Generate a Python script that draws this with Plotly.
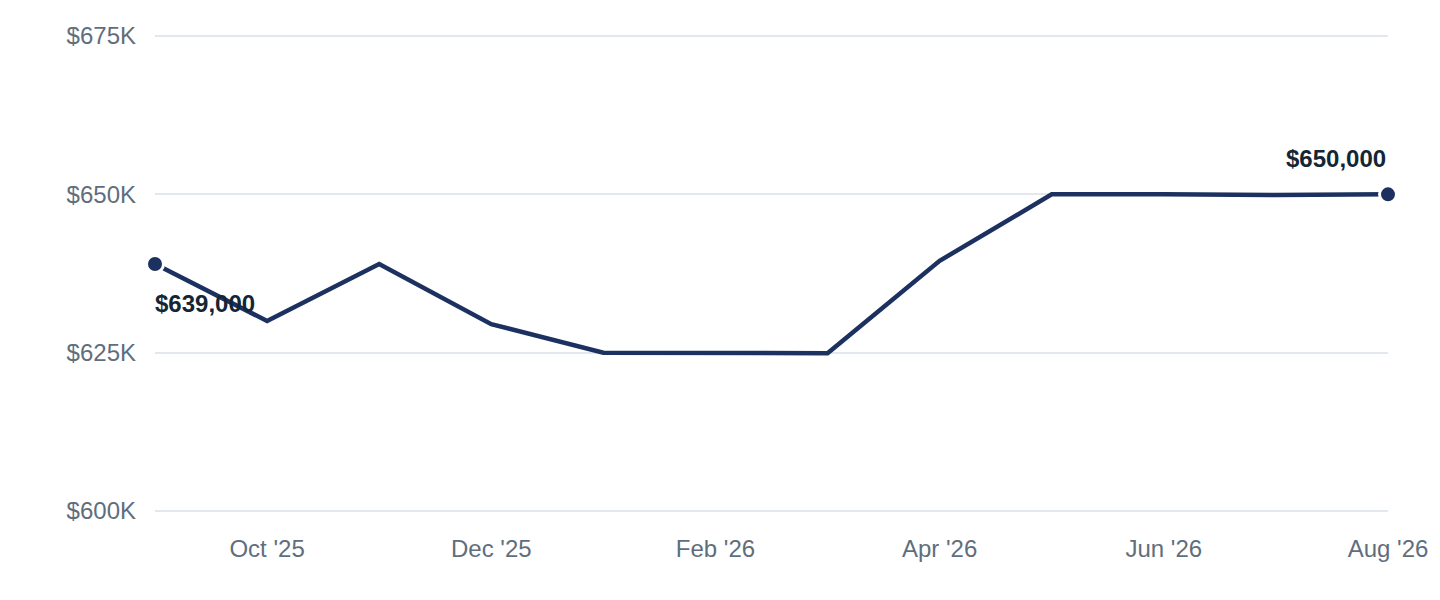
import plotly.graph_objects as go

months = ["Sep '25", "Oct '25", "Nov '25", "Dec '25", "Jan '26", "Feb '26",
          "Mar '26", "Apr '26", "May '26", "Jun '26", "Jul '26", "Aug '26"]
prices = [639000, 630000, 639000, 629500, 625000, 624900,
          624900, 639500, 650000, 650000, 649900, 650000]
tick_months = ["Oct '25", "Dec '25", "Feb '26", "Apr '26", "Jun '26", "Aug '26"]
y_ticks = [600000, 625000, 650000, 675000]
y_tick_text = ["$600K", "$625K", "$650K", "$675K"]

navy = "#1c3160"
label_color = "#142635"
FONT = "Liberation Sans, Arial, sans-serif"

fig = go.Figure()
fig.add_trace(go.Scatter(
    x=months, y=prices, mode="lines",
    line=dict(color=navy, width=4.5),
    hoverinfo="skip", showlegend=False, cliponaxis=False,
))
fig.add_trace(go.Scatter(
    x=[months[0], months[-1]], y=[prices[0], prices[-1]], mode="markers",
    marker=dict(color=navy, size=17, line=dict(color="white", width=3)),
    hoverinfo="skip", showlegend=False, cliponaxis=False,
))

fig.add_annotation(x=months[0], y=prices[0], text="<b>$639,000</b>",
                   showarrow=False, xanchor="left", yanchor="middle",
                   xshift=-2, yshift=-39,
                   font=dict(family=FONT, size=24, color=label_color))
fig.add_annotation(x=months[-1], y=prices[-1], text="<b>$650,000</b>",
                   showarrow=False, xanchor="right", yanchor="middle",
                   xshift=0, yshift=36,
                   font=dict(family=FONT, size=24, color=label_color))

fig.update_layout(
    width=1440, height=600,
    margin=dict(l=155, r=48, t=34, b=87),
    paper_bgcolor="white", plot_bgcolor="white",
    font=dict(family=FONT, size=24, color="#5f6e7c"),
    hovermode=False,
    xaxis=dict(
        type="category", categoryorder="array", categoryarray=months,
        range=[0, len(months) - 1],
        tickmode="array", tickvals=tick_months, ticktext=tick_months,
        showgrid=False, zeroline=False, showline=False, ticks="",
        ticklabelstandoff=19,
    ),
    yaxis=dict(
        range=[599684, 675316],
        tickmode="array", tickvals=y_ticks, ticktext=y_tick_text,
        showgrid=True, gridcolor="#e3e7ee", gridwidth=1.5,
        zeroline=False, showline=False, ticks="",
        ticklabelstandoff=18,
    ),
)

fig.write_html("out.html", config={"displayModeBar": False},
               post_script="document.body.style.margin='0';document.body.style.overflow='hidden';")
